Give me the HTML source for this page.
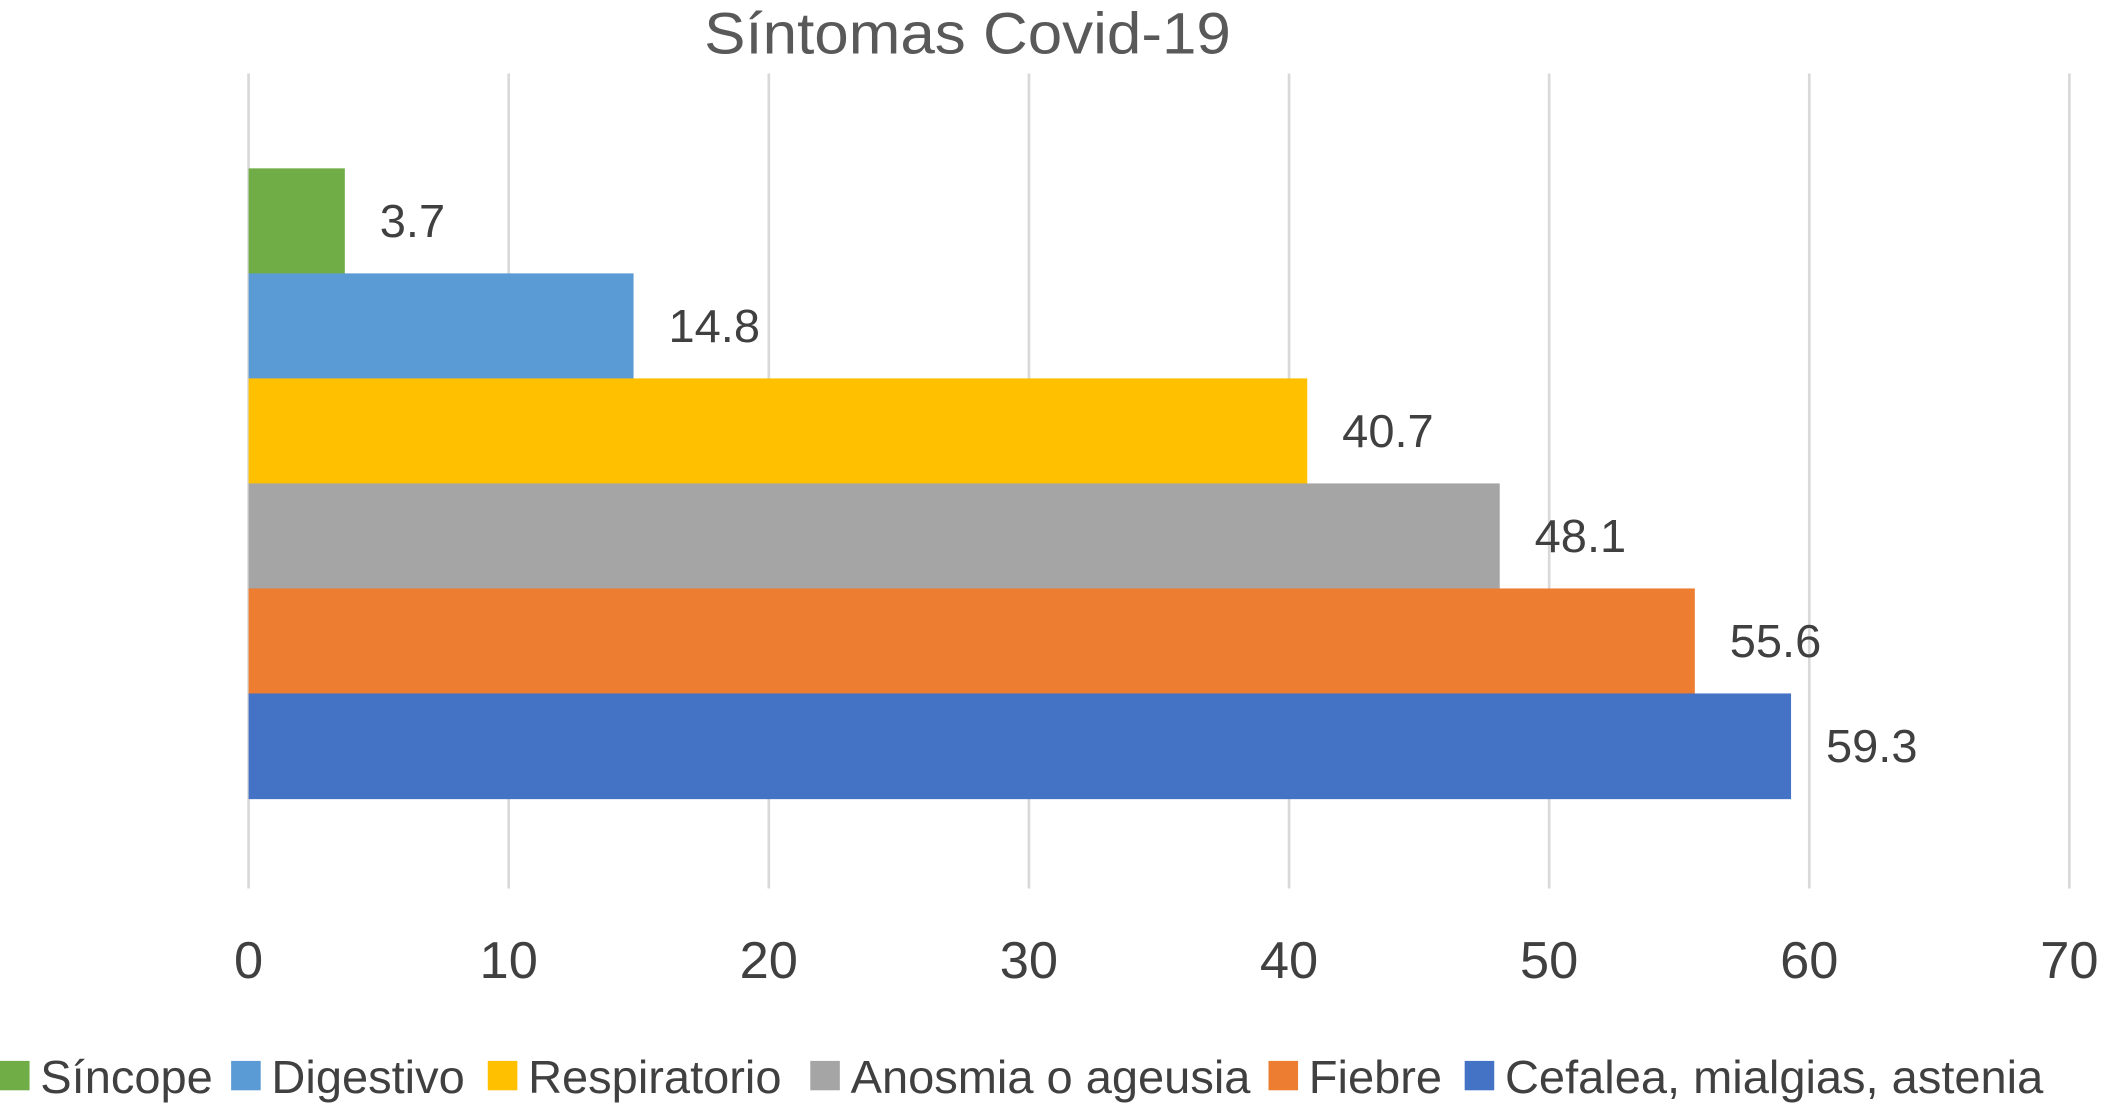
<!DOCTYPE html>
<html><head><meta charset="utf-8"><style>
html,body{margin:0;padding:0;background:#fff;}
svg{display:block;}
text{font-family:"Liberation Sans",Arial,sans-serif;fill:#404040;}
</style></head><body>
<svg id="chart" width="2107" height="1109" viewBox="0 0 1568 830" preserveAspectRatio="none" xmlns="http://www.w3.org/2000/svg">
<text x="720" y="40" font-size="44" text-anchor="middle" style="fill:#595959" textLength="392" lengthAdjust="spacingAndGlyphs">Síntomas Covid-19</text>
<g id="grid"></g><g id="bars"></g><g id="labels"></g><g id="ticks"></g><g id="legend"></g>
</svg>
<script>
const categories = ["Síncope","Digestivo","Respiratorio","Anosmia o ageusia","Fiebre","Cefalea, mialgias, astenia"];
const values = [3.7,14.8,40.7,48.1,55.6,59.3];
const colors = ["#70ad47","#5b9bd5","#ffc000","#a5a5a5","#ed7d31","#4472c4"];
const tickValues = [0,10,20,30,40,50,60,70];
const legendX = [0,172,363,603,944,1090];
const NS="http://www.w3.org/2000/svg";
const x0=185, x1=1540, vmax=70;
const sx=v=>x0+(v/vmax)*(x1-x0);
const barTop=126, barH=78.6;
function mk(t,a,p){const e=document.createElementNS(NS,t);for(const k in a)e.setAttribute(k,a[k]);p.appendChild(e);return e;}
const grid=document.getElementById('grid'),bars=document.getElementById('bars'),labels=document.getElementById('labels'),ticks=document.getElementById('ticks'),legend=document.getElementById('legend');
tickValues.forEach(t=>{
  const l=mk('line',{x1:sx(t),x2:sx(t),y1:55,y2:665,stroke:'#d9d9d9','stroke-width':2},grid);
  
  
  const tx=mk('text',{x:sx(t),y:732,'font-size':39,'text-anchor':'middle'},ticks);
  tx.textContent=t;
  
  
});
values.forEach((v,i)=>{
  const y=barTop+i*barH;
  const r=mk('rect',{x:x0,y:y,width:sx(v)-x0,height:barH+0.5,fill:colors[i]},bars);
  
  
  const t=mk('text',{x:sx(v)+26,y:y+barH/2+12,'font-size':35},labels);
  t.textContent=v.toFixed(1);
  
  
});
categories.forEach((c,i)=>{
  const g=mk('g',{},legend);
  
  
  mk('rect',{x:legendX[i],y:794,width:22,height:22,fill:colors[i]},g);
  const t=mk('text',{x:legendX[i]+30,y:818,'font-size':35},g);
  t.textContent=c;
});
</script>
</body></html>
